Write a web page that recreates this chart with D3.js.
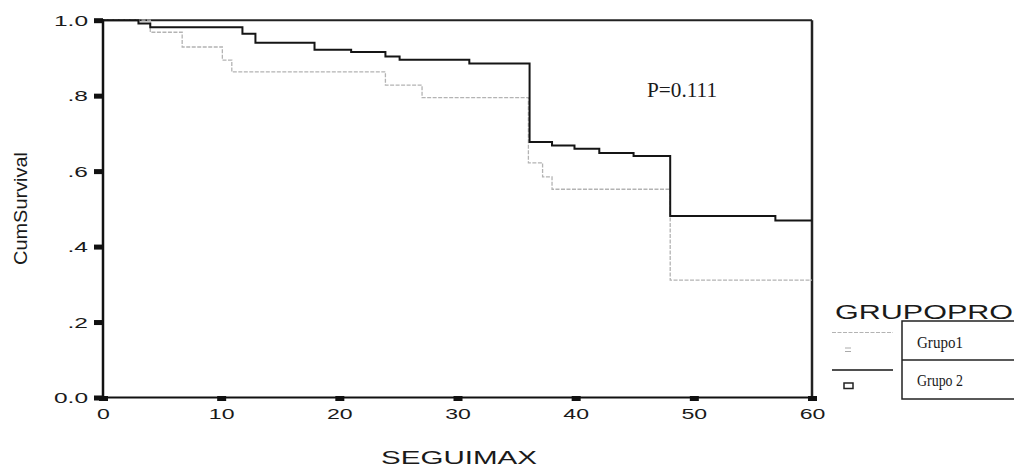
<!DOCTYPE html>
<html>
<head>
<meta charset="utf-8">
<script src="https://cdn.jsdelivr.net/npm/d3@7"></script>
<style>
  body { margin: 0; background: #fff; }
  svg { display: block; }
  .sans { font-family: "Liberation Sans", Arial, sans-serif; fill: #1a1a1a; }
  .serif { font-family: "Liberation Serif", "Times New Roman", serif; fill: #1a1a1a; }
</style>
</head>
<body>
<div id="chart"></div>
<script>
// Kaplan-Meier steps (time in months, cumulative survival)
var grupo1Time = [0, 4.0, 6.7, 10.1, 10.9, 23.9, 27.0, 36.0, 37.2, 38.0, 48.0, 60];
var grupo1Surv = [1.0, 0.968, 0.929, 0.894, 0.863, 0.828, 0.795, 0.622, 0.585, 0.552, 0.311, 0.311];
var grupo2Time = [0, 3.0, 4.0, 11.8, 12.9, 17.9, 21.0, 23.9, 25.1, 31.0, 36.1, 38.0, 39.9, 42.0, 44.9, 48.0, 56.9, 60];
var grupo2Surv = [1.0, 0.991, 0.981, 0.964, 0.940, 0.922, 0.916, 0.904, 0.895, 0.885, 0.677, 0.668, 0.659, 0.648, 0.640, 0.481, 0.469, 0.469];
var groupNames = ["Grupo1", "Grupo 2"];
var xTicks = [0, 10, 20, 30, 40, 50, 60];
var yTicks = [0, 0.2, 0.4, 0.6, 0.8, 1.0];
var yTickLabels = ["0.0", ".2", ".4", ".6", ".8", "1.0"];

var width = 1014, height = 467;
var svg = d3.select("#chart").append("svg")
    .attr("width", width)
    .attr("height", height);

var x = d3.scaleLinear().domain([0, 60]).range([103, 812]);
var y = d3.scaleLinear().domain([0, 1]).range([397.5, 20.2]);

function zip(ts, ss) {
    return ts.map(function (t, i) {
        return {t: t, s: ss[i]};
    });
}
var series = [
    {name: groupNames[0], data: zip(grupo1Time, grupo1Surv), color: "#b3b3b3", width: 1.3, dash: "4,1.5"},
    {name: groupNames[1], data: zip(grupo2Time, grupo2Surv), color: "#151515", width: 2, dash: null}
];

// frame
svg.append("line").attr("x1", x(0)).attr("x2", x(60)).attr("y1", y(1)).attr("y2", y(1))
    .attr("stroke", "#222").attr("stroke-width", 2);
svg.append("line").attr("x1", x(60)).attr("x2", x(60)).attr("y1", y(1)).attr("y2", y(0))
    .attr("stroke", "#222").attr("stroke-width", 2.5);

// curves
var line = d3.line()
    .x(function (d) { return x(d.t); })
    .y(function (d) { return y(d.s); })
    .curve(d3.curveStepAfter);
svg.selectAll(".km")
    .data(series)
    .enter().append("path")
    .attr("class", "km")
    .attr("fill", "none")
    .attr("stroke", function (d) { return d.color; })
    .attr("stroke-width", function (d) { return d.width; })
    .attr("stroke-dasharray", function (d) { return d.dash; })
    .attr("d", function (d) { return line(d.data); });

// axes
var yAxis = svg.append("g")
    .attr("transform", "translate(" + x(0) + ",0)")
    .call(d3.axisLeft(y).tickValues(yTicks).tickSize(0).tickFormat(function (d, i) {
        return yTickLabels[i];
    }));
yAxis.select(".domain").remove();
yAxis.selectAll("text")
    .attr("class", "sans")
    .attr("x", 0).attr("dy", null)
    .attr("transform", "translate(-15,5) scale(1.75,1)")
    .style("font-size", "14px");
yAxis.selectAll(".tick").append("rect")
    .attr("x", -9).attr("y", -2.5).attr("width", 9).attr("height", 5)
    .attr("fill", "#111");

var xAxis = svg.append("g")
    .attr("transform", "translate(0," + y(0) + ")")
    .call(d3.axisBottom(x).tickValues(xTicks).tickSize(0));
xAxis.select(".domain").remove();
xAxis.selectAll("text")
    .attr("class", "sans")
    .attr("y", 0).attr("dy", null)
    .attr("transform", "translate(0,21) scale(1.65,1)")
    .style("font-size", "14px");
xAxis.selectAll(".tick").append("rect")
    .attr("x", -4.5).attr("y", -1.5).attr("width", 9).attr("height", 5)
    .attr("fill", "#111");

svg.append("line").attr("x1", x(0)).attr("x2", x(0)).attr("y1", y(1) - 1).attr("y2", y(0) + 1)
    .attr("stroke", "#111").attr("stroke-width", 2.5);
svg.append("line").attr("x1", x(0)).attr("x2", x(60)).attr("y1", y(0)).attr("y2", y(0))
    .attr("stroke", "#111").attr("stroke-width", 2);

// axis titles
svg.append("text").attr("class", "sans")
    .attr("x", 381).attr("y", 464)
    .attr("textLength", 156).attr("lengthAdjust", "spacingAndGlyphs")
    .style("font-size", "19px")
    .text("SEGUIMAX");
svg.append("text").attr("class", "sans")
    .attr("transform", "translate(27,208.5) rotate(-90)")
    .attr("text-anchor", "middle")
    .attr("textLength", 113).attr("lengthAdjust", "spacingAndGlyphs")
    .style("font-size", "19px")
    .text("CumSurvival");

// p value
svg.append("text").attr("class", "serif")
    .attr("x", 647).attr("y", 97)
    .attr("textLength", 70).attr("lengthAdjust", "spacingAndGlyphs")
    .style("font-size", "21px")
    .text("P=0.111");

// legend
svg.append("text").attr("class", "sans")
    .attr("x", 835).attr("y", 318.5)
    .attr("textLength", 178).attr("lengthAdjust", "spacingAndGlyphs")
    .style("font-size", "20px")
    .text("GRUPOPRO");

var legend = svg.append("g");
legend.append("rect")
    .attr("x", 902).attr("y", 321).attr("width", 140).attr("height", 78)
    .attr("fill", "none").attr("stroke", "#222").attr("stroke-width", 1.5);
legend.append("line")
    .attr("x1", 902).attr("x2", 1014).attr("y1", 360).attr("y2", 360)
    .attr("stroke", "#222").attr("stroke-width", 1.5);

var entry = legend.selectAll(".entry")
    .data(series)
    .enter().append("g")
    .attr("class", "entry")
    .attr("transform", function (d, i) { return "translate(0," + (i * 37.5) + ")"; });
entry.append("line")
    .attr("x1", 832).attr("x2", 893).attr("y1", 332.5).attr("y2", 332.5)
    .attr("stroke", function (d) { return d.color; })
    .attr("stroke-width", function (d, i) { return i ? 1.6 : 1.2; })
    .attr("stroke-dasharray", function (d) { return d.dash; });
entry.append("text").attr("class", "serif")
    .attr("x", 917).attr("y", 348)
    .attr("textLength", 46).attr("lengthAdjust", "spacingAndGlyphs")
    .style("font-size", "16px")
    .text(function (d) { return d.name; });

// censor symbols
var e1 = d3.select(entry.nodes()[0]);
e1.append("line").attr("x1", 845).attr("x2", 851).attr("y1", 348).attr("y2", 348)
    .attr("stroke", "#aaa").attr("stroke-width", 1);
e1.append("line").attr("x1", 845).attr("x2", 851).attr("y1", 351.5).attr("y2", 351.5)
    .attr("stroke", "#aaa").attr("stroke-width", 1);
var e2 = d3.select(entry.nodes()[1]);
e2.append("rect").attr("x", 844).attr("y", 345.5).attr("width", 9).attr("height", 5.5)
    .attr("fill", "none").attr("stroke", "#222").attr("stroke-width", 1.5);
</script>
</body>
</html>
